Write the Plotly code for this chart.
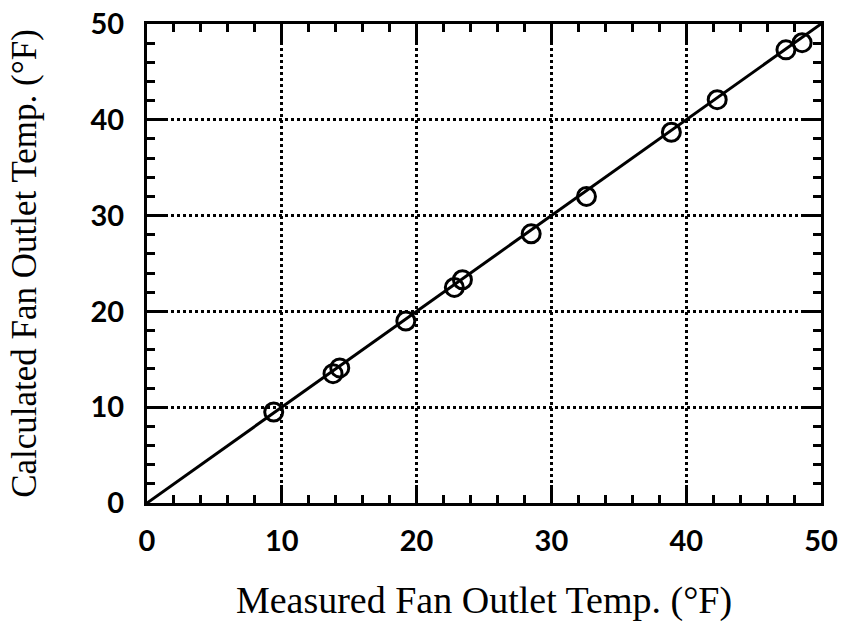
import plotly.graph_objects as go

# Measured vs. calculated fan outlet temperature (°F)
measured = [9.4, 13.8, 14.3, 19.2, 22.8, 23.4, 28.5, 32.6, 38.9, 42.3, 47.4, 48.6]
calculated = [9.5, 13.5, 14.1, 19.0, 22.5, 23.3, 28.1, 32.0, 38.7, 42.1, 47.3, 48.05]

# 1:1 reference line
line_x = [0, 50]
line_y = [0, 50]

tick_vals = [0, 10, 20, 30, 40, 50]
tick_text = ["0", "10", "20", "30", "40", "50"]

fig = go.Figure()
fig.add_trace(go.Scatter(
    x=line_x, y=line_y, mode="lines",
    line=dict(color="black", width=3),
    showlegend=False, hoverinfo="skip",
))
fig.add_trace(go.Scatter(
    x=measured, y=calculated, mode="markers",
    marker=dict(symbol="circle-open", size=18, color="black",
                line=dict(color="black", width=3)),
    showlegend=False,
))

axis_common = dict(
    range=[0, 50],
    tickvals=tick_vals,
    ticktext=tick_text,
    ticks="inside",
    ticklen=18,
    tickwidth=2.5,
    tickcolor="black",
    showline=True,
    linewidth=3,
    linecolor="black",
    mirror="allticks",
    showgrid=True,
    gridcolor="black",
    gridwidth=2.5,
    griddash="dot",
    zeroline=False,
    tickfont=dict(family="Lato", size=29, color="black", weight="bold"),
    minor=dict(dtick=2, tick0=0, ticks="inside", ticklen=8, tickwidth=2.5,
               tickcolor="black", showgrid=False),
)

fig.update_xaxes(
    **axis_common,
    ticklabelstandoff=10,
    title=dict(text="Measured Fan Outlet Temp. (°F)",
               font=dict(family="Liberation Serif", size=38, color="black"),
               standoff=31),
)
fig.update_yaxes(
    **axis_common,
    ticklabelstandoff=14,
    title=dict(text="Calculated Fan Outlet Temp. (°F)",
               font=dict(family="Liberation Serif", size=35, color="black"),
               standoff=44),
)

fig.update_layout(
    width=841, height=626,
    margin=dict(l=147, r=20, t=24, b=123, autoexpand=False),
    plot_bgcolor="white",
    paper_bgcolor="white",
)

fig.write_html("out.html")
